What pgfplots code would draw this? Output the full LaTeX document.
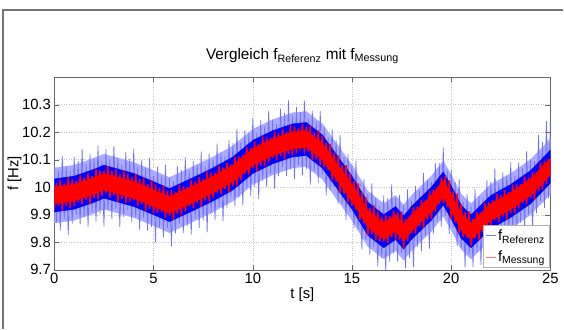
\documentclass[border=0pt]{standalone}
\usepackage{fontspec}
\setmainfont{Liberation Sans}
\usepackage{pgfplots}
\usepackage{pgfplotstable}
\pgfplotsset{compat=1.18}

% band outlines: upper edge forward, lower edge backward
\pgfplotstableread{
t bh bc rc
0 10.070 10.030 10.000
1 10.080 10.040 10.010
2 10.105 10.065 10.035
2.5 10.120 10.080 10.050
3 10.110 10.070 10.040
4 10.090 10.050 10.020
5 10.060 10.020 9.990
5.8 10.035 9.995 9.965
7 10.075 10.035 10.005
8 10.110 10.070 10.040
9 10.150 10.110 10.080
10 10.210 10.170 10.140
11 10.245 10.205 10.175
12 10.270 10.230 10.200
12.7 10.275 10.235 10.205
13.5 10.230 10.190 10.160
14 10.180 10.140 10.110
15 10.080 10.040 10.010
15.8 9.985 9.945 9.915
16.6 9.940 9.900 9.870
17.2 9.970 9.930 9.900
17.6 9.935 9.895 9.865
18 9.970 9.930 9.900
19 10.040 10.000 9.970
19.6 10.095 10.055 10.025
20 10.045 10.005 9.975
20.5 9.975 9.935 9.905
21 9.940 9.900 9.870
22 10.010 9.970 9.940
23 10.050 10.010 9.980
24 10.100 10.060 10.030
25 10.175 10.135 10.105
25 9.975 10.015 10.045
24 9.900 9.940 9.970
23 9.850 9.890 9.920
22 9.810 9.850 9.880
21 9.740 9.780 9.810
20.5 9.775 9.815 9.845
20 9.845 9.885 9.915
19.6 9.895 9.935 9.965
19 9.840 9.880 9.910
18 9.770 9.810 9.840
17.6 9.735 9.775 9.805
17.2 9.770 9.810 9.840
16.6 9.740 9.780 9.810
15.8 9.785 9.825 9.855
15 9.880 9.920 9.950
14 9.980 10.020 10.050
13.5 10.030 10.070 10.100
12.7 10.075 10.115 10.145
12 10.070 10.110 10.140
11 10.045 10.085 10.115
10 10.010 10.050 10.080
9 9.950 9.990 10.020
8 9.910 9.950 9.980
7 9.875 9.915 9.945
5.8 9.835 9.875 9.905
5 9.860 9.900 9.930
4 9.890 9.930 9.960
3 9.910 9.950 9.980
2.5 9.920 9.960 9.990
2 9.905 9.945 9.975
1 9.880 9.920 9.950
0 9.870 9.910 9.940
}\poly

% noisy signals: yb = f_Referenz, yr = f_Messung
\pgfplotstableread{
t yb yr
0.0 10.090 9.918
0.1 9.870 10.015
0.2 10.062 9.932
0.3 9.842 10.027
0.4 10.114 9.914
0.5 9.884 10.014
0.6 10.076 9.931
0.7 9.826 10.036
0.8 10.058 9.923
0.9 9.868 10.028
1.0 10.110 9.932
1.1 9.900 10.022
1.2 10.095 9.947
1.3 9.865 10.043
1.4 10.140 9.938
1.5 9.890 10.035
1.6 10.085 9.955
1.7 9.855 10.050
1.8 10.120 9.940
1.9 9.910 10.040
2.0 10.105 9.960
2.1 9.875 10.065
2.2 10.151 9.956
2.3 9.901 10.061
2.4 10.097 9.969
2.5 9.857 10.059
2.6 10.138 9.980
2.7 9.918 10.076
2.8 10.104 9.962
2.9 9.884 10.059
3.0 10.150 9.970
3.1 9.920 10.065
3.2 10.106 9.946
3.3 9.856 10.046
3.4 10.082 9.957
3.5 9.892 10.062
3.6 10.128 9.943
3.7 9.918 10.048
3.8 10.104 9.946
3.9 9.874 10.036
4.0 10.140 9.952
4.1 9.890 10.048
4.2 10.074 9.932
4.3 9.844 10.029
4.4 10.098 9.938
4.5 9.888 10.033
4.6 10.072 9.912
4.7 9.842 10.012
4.8 10.106 9.921
4.9 9.856 10.026
5.0 10.040 9.905
5.1 9.800 10.010
5.2 10.074 9.906
5.3 9.854 9.996
5.4 10.038 9.910
5.5 9.818 10.006
5.6 10.081 9.889
5.7 9.851 9.986
5.8 10.035 9.895
5.9 9.785 9.990
6.0 10.021 9.881
6.1 9.831 9.981
6.2 10.077 9.902
6.3 9.867 10.007
6.4 10.063 9.898
6.5 9.833 10.003
6.6 10.109 9.911
6.7 9.859 10.001
6.8 10.059 9.931
6.9 9.829 10.027
7.0 10.095 9.923
7.1 9.885 10.020
7.2 10.082 9.942
7.3 9.852 10.037
7.4 10.129 9.929
7.5 9.879 10.029
7.6 10.076 9.951
7.7 9.836 10.056
7.8 10.123 9.948
7.9 9.903 10.053
8.0 10.100 9.962
8.1 9.880 10.052
8.2 10.158 9.980
8.3 9.928 10.076
8.4 10.126 9.974
8.5 9.876 10.071
8.6 10.114 9.994
8.7 9.924 10.089
8.8 10.172 9.982
8.9 9.962 10.082
9.0 10.160 10.005
9.1 9.930 10.110
9.2 10.212 10.007
9.3 9.962 10.112
9.4 10.164 10.026
9.5 9.934 10.116
9.6 10.206 10.048
9.7 9.996 10.144
9.8 10.198 10.046
9.9 9.968 10.143
10.0 10.250 10.070
10.1 10.000 10.165
10.2 10.197 10.057
10.3 9.957 10.157
10.4 10.244 10.079
10.5 10.024 10.184
10.6 10.221 10.076
10.7 10.001 10.181
10.8 10.278 10.090
10.9 10.048 10.180
11.0 10.245 10.107
11.1 9.995 10.203
11.2 10.230 10.098
11.3 10.040 10.195
11.4 10.285 10.115
11.5 10.075 10.210
11.6 10.270 10.100
11.7 10.040 10.200
11.8 10.315 10.120
11.9 10.065 10.225
12.0 10.260 10.115
12.1 10.030 10.220
12.2 10.291 10.123
12.3 10.081 10.213
12.4 10.273 10.135
12.5 10.043 10.231
12.6 10.315 10.123
12.7 10.065 10.220
12.8 10.249 10.129
12.9 10.009 10.224
13.0 10.278 10.098
13.1 10.058 10.198
13.2 10.237 10.102
13.3 10.017 10.207
13.4 10.276 10.081
13.5 10.046 10.186
13.6 10.220 10.072
13.7 9.970 10.162
13.8 10.180 10.062
13.9 9.990 10.158
14.0 10.210 10.028
14.1 10.000 10.125
14.2 10.170 10.020
14.3 9.940 10.115
14.4 10.190 9.980
14.5 9.940 10.080
14.6 10.110 9.975
14.7 9.880 10.080
14.8 10.120 9.945
14.9 9.910 10.050
15.0 10.080 9.932
15.1 9.850 10.022
15.2 10.096 9.918
15.3 9.846 10.014
15.4 10.013 9.881
15.5 9.773 9.978
15.6 10.029 9.869
15.7 9.809 9.964
15.8 9.975 9.825
15.9 9.755 9.925
16.0 10.014 9.829
16.1 9.784 9.934
16.2 9.962 9.807
16.3 9.712 9.912
16.4 9.931 9.803
16.5 9.741 9.893
16.6 9.970 9.802
16.7 9.690 9.898
16.8 9.960 9.798
16.9 9.730 9.895
17.0 10.010 9.820
17.1 9.760 9.915
17.2 9.960 9.810
17.3 9.730 9.910
17.4 9.972 9.807
17.5 9.762 9.912
17.6 9.935 9.780
17.7 9.705 9.885
17.8 9.992 9.804
17.9 9.742 9.894
18.0 9.950 9.832
18.1 9.710 9.928
18.2 10.004 9.832
18.3 9.784 9.929
18.4 9.988 9.858
18.5 9.768 9.953
18.6 10.052 9.852
18.7 9.822 9.952
18.8 10.026 9.881
18.9 9.776 9.986
19.0 10.020 9.885
19.1 9.830 9.990
19.2 10.088 9.910
19.3 9.878 10.000
19.4 10.087 9.939
19.5 9.857 10.035
19.6 10.145 9.943
19.7 9.895 10.040
19.8 10.060 9.930
19.9 9.830 10.025
20.0 10.065 9.885
20.1 9.855 9.985
20.2 10.017 9.872
20.3 9.787 9.977
20.4 10.029 9.834
20.5 9.779 9.939
20.6 9.948 9.820
20.7 9.708 9.910
20.8 9.974 9.816
20.9 9.754 9.912
21.0 9.930 9.788
21.1 9.710 9.885
21.2 9.994 9.814
21.3 9.764 9.909
21.4 9.968 9.808
21.5 9.718 9.908
21.6 9.962 9.837
21.7 9.772 9.942
21.8 10.026 9.841
21.9 9.816 9.946
22.0 10.020 9.862
22.1 9.790 9.952
22.2 10.068 9.880
22.3 9.818 9.976
22.4 10.016 9.874
22.5 9.786 9.971
22.6 10.054 9.894
22.7 9.844 9.989
22.8 10.042 9.882
22.9 9.812 9.982
23.0 10.090 9.905
23.1 9.840 10.010
23.2 10.040 9.905
23.3 9.800 10.010
23.4 10.090 9.922
23.5 9.870 10.012
23.6 10.070 9.942
23.7 9.850 10.038
23.8 10.130 9.938
23.9 9.900 10.035
24.0 10.100 9.960
24.1 9.850 10.055
24.2 10.095 9.955
24.3 9.905 10.055
24.4 10.190 9.985
24.5 9.950 10.090
24.6 10.165 9.990
24.7 9.925 10.095
24.8 10.240 10.012
24.9 9.960 10.102
25.0 10.245 10.037
}\sig

\definecolor{mblue}{RGB}{0,0,255}
\definecolor{mred}{RGB}{255,0,0}
\definecolor{mlblue}{RGB}{110,110,255}
\definecolor{mhalo}{RGB}{170,170,255}
\definecolor{mlegb}{RGB}{120,120,255}
\definecolor{mlegr}{RGB}{255,120,120}

\begin{document}
\begin{tikzpicture}
\begin{axis}[
  scale only axis, width=502pt, height=195pt,
  xmin=0, xmax=25, ymin=9.7, ymax=10.4,
  xtick={0,5,10,15,20,25},
  ytick={9.7,9.8,9.9,10,10.1,10.2,10.3},
  yticklabels={9.7,9.8,9.9,10,10.1,10.2,10.3},
  /pgf/number format/assume math mode=true,
  grid=major, grid style={dotted, gray!45},
  tick align=inside, major tick length=5pt,
  axis line style={black!60}, tick style={black!60},
  tick label style={font=\fontsize{15}{17}\selectfont},
  xlabel={t [s]}, ylabel={f [Hz]},
  every axis x label/.style={at={(axis description cs:0.5,-0.13)}, anchor=center, font=\fontsize{15}{17}\selectfont},
  every axis y label/.style={at={(axis description cs:-0.08,0.5)}, rotate=90, anchor=center, font=\fontsize{15}{17}\selectfont},
  title={Vergleich f\textsubscript{Referenz} mit f\textsubscript{Messung}},
  title style={font=\fontsize{15.5}{18}\selectfont, at={(axis description cs:0.5,1.077)}, anchor=center},
  legend style={at={(1,0)}, anchor=south east, xshift=-1pt, yshift=2pt,
    font=\fontsize{15}{17}\selectfont, draw=gray!60, fill=white,
    inner sep=2.5pt, row sep=5pt, cells={anchor=west}},
  legend image code/.code={\draw[#1] (0pt,0pt) -- (10pt,0pt);},
]
\addplot[fill=mhalo, draw=mhalo, forget plot] table[x=t, y=bh] {\poly};
\addplot[draw=mlblue, line width=0.7pt, forget plot] table[x=t, y=yb] {\sig};
\addplot[fill=mblue, draw=mblue, forget plot] table[x=t, y=bc] {\poly};
\addplot[draw=mred, line width=1.4pt, forget plot] table[x=t, y=yr] {\sig};
\addplot[fill=mred, draw=mred, forget plot] table[x=t, y=rc] {\poly};
\addlegendimage{draw=mlegb, line width=1pt}
\addlegendentry{f\textsubscript{Referenz}}
\addlegendimage{draw=mlegr, line width=1pt}
\addlegendentry{f\textsubscript{Messung}}
\end{axis}
\draw[black!55, line width=1.5pt] (-52pt,-60pt) -- (-52pt,263pt) -- (515pt,263pt);
\useasboundingbox (-55pt,-58pt) rectangle (509pt,273pt);
\end{tikzpicture}
\end{document}
